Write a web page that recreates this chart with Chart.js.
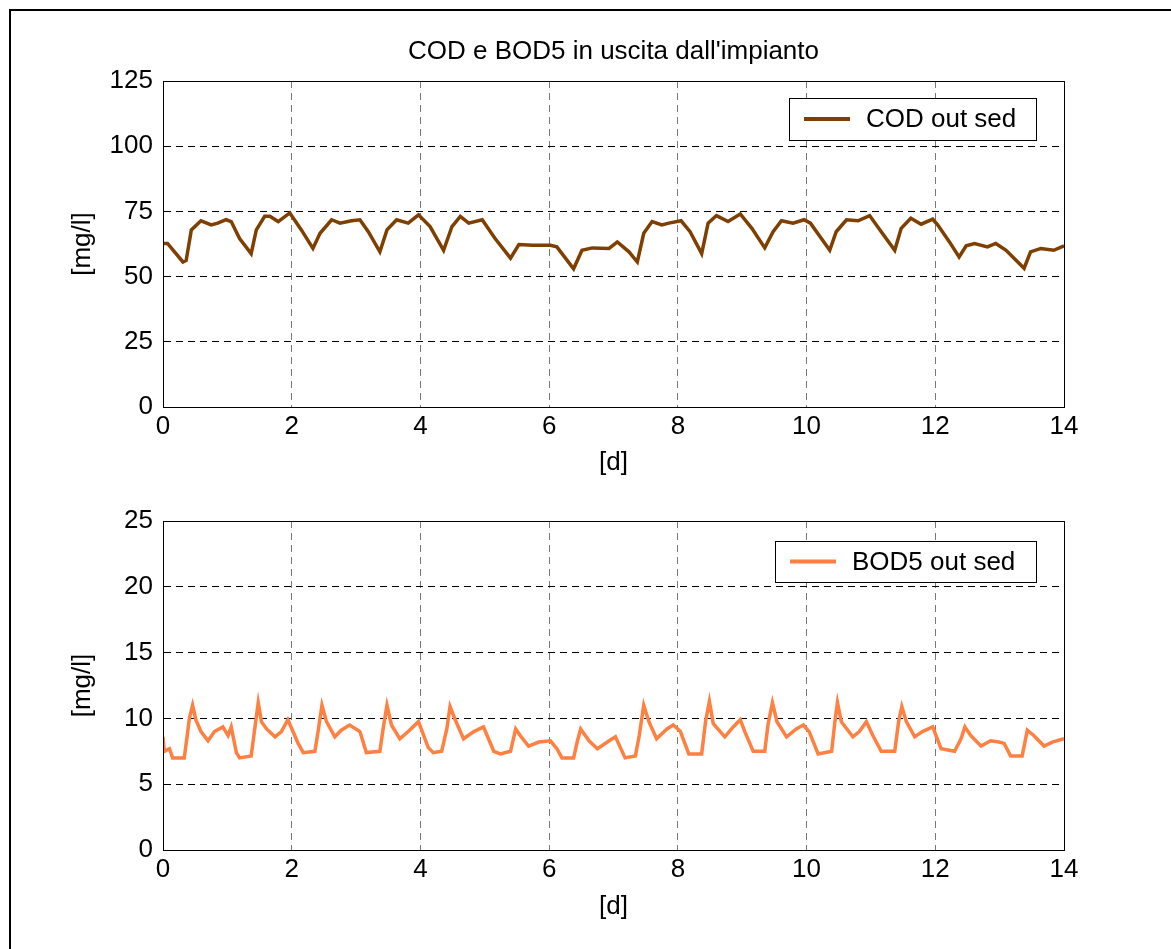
<!DOCTYPE html>
<html>
<head>
<meta charset="utf-8">
<script src="https://cdn.jsdelivr.net/npm/chart.js@4.4.1/dist/chart.umd.min.js"></script>
<style>
body { margin: 0; background: #fff; }
#wrap { position: relative; width: 1171px; height: 949px; overflow: hidden; background: #fff; }
#frame { position: absolute; left: 9px; top: 9px; width: 1300px; height: 1100px;
         border-left: 2px solid #000; border-top: 2px solid #000; }
canvas { position: absolute; left: 0; }
</style>
</head>
<body>
<div id="wrap">
  <div id="frame"></div>
  <canvas id="cod" width="1171" height="480" style="top:0px"></canvas>
  <canvas id="bod" width="1171" height="469" style="top:480px"></canvas>
</div>
<script>
// COD out sed [mg/l] over time [d]
var codDays = [
    0, 0.07, 0.31, 0.36, 0.44, 0.59, 0.75, 0.85, 0.98, 1.06,
    1.19, 1.37, 1.45, 1.58, 1.66, 1.79, 1.97, 2.15, 2.33, 2.44,
    2.62, 2.75, 2.93, 3.06, 3.19, 3.37, 3.48, 3.63, 3.81, 3.97,
    4.15, 4.36, 4.49, 4.62, 4.75, 4.96, 5.16, 5.40, 5.53, 5.74,
    6.02, 6.12, 6.38, 6.51, 6.67, 6.93, 7.06, 7.24, 7.37, 7.47,
    7.60, 7.75, 7.86, 8.05, 8.19, 8.37, 8.47, 8.60, 8.78, 8.97,
    9.15, 9.35, 9.48, 9.61, 9.79, 9.96, 10.06, 10.23, 10.36, 10.46,
    10.62, 10.80, 10.98, 11.16, 11.37, 11.47, 11.62, 11.78, 11.96, 12.04,
    12.22, 12.37, 12.48, 12.61, 12.81, 12.94, 13.10, 13.38, 13.48, 13.64,
    13.84, 14
];
var codValues = [
    62.7, 62.7, 55.6, 56.2, 67.9, 71.4, 69.8, 70.5, 71.8, 71.1,
    64.6, 58.8, 67.9, 73.1, 73.1, 71.1, 74.4, 67.9, 60.8, 66.6,
    71.8, 70.5, 71.4, 71.8, 67.2, 59.5, 67.9, 71.8, 70.5, 73.7,
    69.2, 60.1, 69.2, 73.1, 70.5, 71.8, 64.6, 57.1, 62.3, 62.0,
    62.0, 61.4, 53.0, 60.1, 61.0, 60.8, 63.3, 59.5, 55.6, 66.6,
    71.1, 69.8, 70.5, 71.4, 67.2, 58.8, 70.5, 73.4, 71.1, 74.0,
    68.5, 61.0, 67.2, 71.4, 70.5, 71.8, 70.5, 64.6, 60.1, 67.2,
    71.8, 71.4, 73.4, 67.2, 60.1, 68.5, 72.4, 70.1, 72.0, 69.8,
    63.3, 57.5, 61.8, 62.7, 61.4, 62.7, 60.1, 53.2, 59.5, 60.8,
    60.1, 61.8
];

// BOD5 out sed [mg/l] over time [d]
var bodDays = [
    0, 0.02, 0.10, 0.15, 0.33, 0.37, 0.41, 0.46, 0.51, 0.59,
    0.70, 0.80, 0.93, 1.01, 1.06, 1.14, 1.19, 1.37, 1.42, 1.48,
    1.53, 1.61, 1.74, 1.84, 1.94, 2.02, 2.10, 2.18, 2.36, 2.41,
    2.47, 2.54, 2.67, 2.77, 2.90, 3.06, 3.16, 3.37, 3.42, 3.48,
    3.55, 3.68, 3.81, 3.97, 4.12, 4.20, 4.33, 4.41, 4.46, 4.54,
    4.67, 4.83, 4.98, 5.14, 5.24, 5.40, 5.48, 5.55, 5.68, 5.84,
    6.02, 6.12, 6.20, 6.38, 6.44, 6.49, 6.62, 6.75, 6.98, 7.03,
    7.18, 7.34, 7.40, 7.47, 7.55, 7.67, 7.83, 7.93, 8.04, 8.17,
    8.37, 8.43, 8.49, 8.55, 8.73, 8.86, 8.97, 9.04, 9.17, 9.35,
    9.40, 9.47, 9.54, 9.69, 9.84, 9.95, 10.04, 10.18, 10.39, 10.44,
    10.48, 10.54, 10.72, 10.82, 10.93, 11.03, 11.16, 11.37, 11.43, 11.48,
    11.55, 11.68, 11.80, 11.96, 12.09, 12.30, 12.40, 12.46, 12.55, 12.71,
    12.86, 12.99, 13.07, 13.17, 13.35, 13.43, 13.53, 13.69, 13.82, 14
];
var bodValues = [
    8.6, 7.5, 7.7, 7.0, 7.0, 8.45, 10.0, 11.0, 9.9, 9.0,
    8.3, 9.0, 9.35, 8.7, 9.35, 7.4, 7.0, 7.15, 9.0, 11.2,
    9.75, 9.2, 8.6, 9.0, 9.9, 9.0, 8.1, 7.4, 7.5, 9.0,
    11.0, 9.75, 8.6, 9.1, 9.5, 9.0, 7.4, 7.5, 9.2, 11.0,
    9.5, 8.45, 9.0, 9.75, 7.8, 7.4, 7.5, 9.2, 10.9, 9.9,
    8.45, 9.0, 9.35, 7.5, 7.3, 7.5, 9.2, 8.7, 7.9, 8.2,
    8.3, 7.7, 7.0, 7.0, 8.3, 9.2, 8.3, 7.7, 8.45, 8.6,
    7.0, 7.15, 8.7, 11.0, 9.75, 8.45, 9.2, 9.5, 9.0, 7.3,
    7.3, 9.75, 11.3, 9.6, 8.6, 9.35, 9.9, 9.0, 7.5, 7.5,
    9.5, 11.2, 9.75, 8.6, 9.2, 9.5, 9.0, 7.3, 7.5, 9.75,
    11.2, 9.75, 8.6, 9.0, 9.75, 8.7, 7.5, 7.5, 9.75, 10.9,
    9.75, 8.6, 9.0, 9.35, 7.7, 7.5, 8.45, 9.35, 8.7, 7.9,
    8.3, 8.2, 8.1, 7.15, 7.15, 9.1, 8.7, 7.9, 8.2, 8.45
];

var FONT_FAMILY = "'Liberation Sans', Arial, sans-serif";
var FONT_SIZE = 26;
Chart.defaults.font.family = FONT_FAMILY;
Chart.defaults.font.size = FONT_SIZE;
Chart.defaults.color = '#000';

// box around the axes, figure title and a matlab-like legend box
var decor = {
    id: 'decor',
    afterDraw: function (chart, args, opts) {
        var ctx = chart.ctx;
        var a = chart.chartArea;
        ctx.save();
        ctx.strokeStyle = '#000';
        ctx.lineWidth = 1;
        ctx.strokeRect(Math.round(a.left) + 0.5, Math.round(a.top) + 0.5,
            Math.round(a.right - a.left), Math.round(a.bottom - a.top));
        ctx.font = FONT_SIZE + 'px ' + FONT_FAMILY;
        ctx.fillStyle = '#000';
        ctx.textBaseline = 'middle';
        if (opts.title) {
            ctx.textAlign = 'center';
            ctx.fillText(opts.title, (a.left + a.right) / 2, opts.titleY);
        }
        var b = opts.box;
        var ds = chart.data.datasets[0];
        ctx.fillStyle = '#fff';
        ctx.fillRect(b.x, b.y, b.w, b.h);
        ctx.strokeRect(b.x + 0.5, b.y + 0.5, b.w, b.h);
        var cy = b.y + b.h / 2;
        ctx.strokeStyle = ds.borderColor;
        ctx.lineWidth = 4;
        ctx.beginPath();
        ctx.moveTo(b.x + 15, cy);
        ctx.lineTo(b.x + 61, cy);
        ctx.stroke();
        ctx.fillStyle = '#000';
        ctx.textAlign = 'left';
        ctx.fillText(ds.label, b.x + 77, cy + 1);
        ctx.restore();
    }
};

function makeChart(id, label, days, values, color, yMax, yStep, lay) {
    var ctx = document.getElementById(id).getContext('2d');
    return new Chart(ctx, {
        type: 'line',
        data: {
            datasets: [{
                label: label,
                data: days.map(function (d, i) { return { x: d, y: values[i] }; }),
                borderColor: color,
                borderWidth: 3.5,
                pointRadius: 0,
                fill: false,
                tension: 0
            }]
        },
        options: {
            responsive: false,
            animation: false,
            layout: {
                padding: { top: lay.top, right: 107, bottom: 0, left: 0 }
            },
            scales: {
                x: {
                    type: 'linear',
                    min: 0,
                    max: 14,
                    afterFit: function (scale) { scale.height = lay.xHeight; },
                    ticks: { stepSize: 2, padding: 4, maxRotation: 0 },
                    grid: { color: '#7a7a7a', drawTicks: false },
                    border: { display: true, color: '#000', dash: [7, 5] },
                    title: { display: true, text: '[d]', padding: { top: 0, bottom: lay.xTitle } }
                },
                y: {
                    min: 0,
                    max: yMax,
                    afterFit: function (scale) { scale.width = 163; },
                    ticks: { stepSize: yStep, padding: 10 },
                    grid: { color: '#000', drawTicks: false },
                    border: { display: true, color: '#000', dash: [7, 5] },
                    title: { display: true, text: '[mg/l]', padding: { top: 67, bottom: 0 } }
                }
            },
            plugins: {
                legend: { display: false },
                tooltip: { enabled: false },
                decor: {
                    title: lay.title,
                    titleY: lay.titleY,
                    box: lay.box
                }
            }
        },
        plugins: [decor]
    });
}

makeChart('cod', 'COD out sed', codDays, codValues, '#7f3f00', 125, 25, {
    top: 81, xHeight: 73, xTitle: 2,
    title: "COD e BOD5 in uscita dall'impianto", titleY: 52,
    box: { x: 789, y: 98, w: 247, h: 42 }
});
makeChart('bod', 'BOD5 out sed', bodDays, bodValues, '#ff8040', 25, 5, {
    top: 41, xHeight: 99, xTitle: 27,
    title: null, titleY: 0,
    box: { x: 775, y: 61, w: 261, h: 41 }
});
</script>
</body>
</html>
